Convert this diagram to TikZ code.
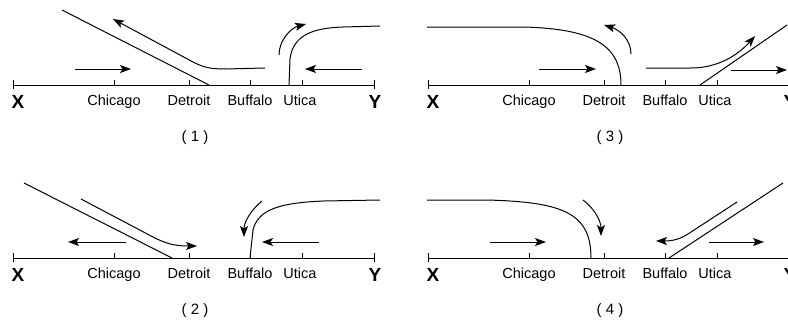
\documentclass[tikz,border=0pt]{standalone}
\usepackage{fontspec}
\setmainfont{Liberation Sans}
\usepackage{tikz}
\usetikzlibrary{arrows.meta}

\begin{document}
\begin{tikzpicture}[
  x=1pt, y=-1pt,
  track/.style={line width=1pt},
  route/.style={line width=1pt},
  arr/.style={-{Stealth[length=11pt,width=8pt,inset=2.5pt]}, line width=1pt},
  city/.style={anchor=base, inner sep=0pt, font=\fontsize{14.5}{15}\selectfont},
  endpt/.style={anchor=base, inner sep=0pt, font=\bfseries\fontsize{19}{19}\selectfont},
  capt/.style={anchor=base, inner sep=0pt, font=\fontsize{15}{16}\selectfont}
]
\useasboundingbox (0,0) rectangle (788,322);

% track, ticks and labels of the four panels
\foreach \ox/\oy/\n in {13/85/1, 13/258/2, 428/85/3, 428/258/4} {
  \begin{scope}[shift={(\ox,\oy)}]
    \coordinate (west\n) at (0,0);
    \coordinate (east\n) at (361,0);
    \draw[track] (west\n) -- (east\n);
    \draw[track] (0,-5) -- (0,4);
    \draw[track] (361,-5) -- (361,4);
    \foreach \t in {101,176,237,289}
      \draw[track] (\t,0) -- (\t,-5);
    \node[endpt] (X\n) at (5,23) {X};
    \node[endpt] (Y\n) at (362,23) {Y};
    \node[city] (chi\n) at (101,20) {Chicago};
    \node[city] (det\n) at (176,20) {Detroit};
    \node[city] (buf\n) at (237,20) {Buffalo};
    \node[city] (uti\n) at (287,20) {Utica};
    \node[capt] (cap\n) at (182,56) {( \n\ )};
  \end{scope}
}

% panel (1)
\begin{scope}[shift={(13,85)}]
  \draw[route] (49,-75) -- (196,0);
  \draw[arr] (252,-17) -- (212,-16) .. controls (196,-16) and (190,-18) .. (180,-23) -- (100,-66);
  \draw[arr] (62,-16) -- (118,-16);
  \draw[arr] (349,-16) -- (292,-16);
  \draw[route] (276,0) -- (277,-26) .. controls (280,-50) and (300,-57) .. (330,-58) -- (367,-59);
  \draw[arr] (266,-30) .. controls (266,-45) and (278,-57) .. (293,-61);
\end{scope}

% panel (2)
\begin{scope}[shift={(13,258)}]
  \draw[route] (11,-75) -- (159,0);
  \draw[arr] (68,-59) -- (140,-21) .. controls (152,-15) and (160,-12) .. (184,-12);
  \draw[arr] (113,-16) -- (55,-16);
  \draw[route] (237,0) -- (240,-28) .. controls (245,-48) and (265,-55) .. (310,-57) -- (367,-58);
  \draw[arr] (249,-57) .. controls (238,-48) and (231,-36) .. (231,-21);
  \draw[arr] (306,-16) -- (249,-16);
\end{scope}

% panel (3)
\begin{scope}[shift={(428,85)}]
  \draw[route] (-1,-58) -- (96,-58) .. controls (165,-56) and (193,-40) .. (193,0);
  \draw[arr] (203,-31) .. controls (203,-45) and (192,-55) .. (176,-60);
  \draw[arr] (111,-16) -- (168,-16);
  \draw[arr] (218,-17) -- (263,-17) .. controls (290,-17) and (310,-30) .. (327,-49);
  \draw[route] (272,0) -- (359,-60);
  \draw[arr] (303,-15) -- (359,-15);
\end{scope}

% panel (4)
\begin{scope}[shift={(428,258)}]
  \draw[route] (-1,-58) -- (59,-58) .. controls (135,-56) and (163,-45) .. (163,0);
  \draw[arr] (155,-58) .. controls (168,-48) and (173,-36) .. (173,-22);
  \draw[arr] (62,-16) -- (118,-16);
  \draw[route] (241,0) -- (355,-75);
  \draw[arr] (309,-56) -- (260,-24) .. controls (252,-19) and (245,-17) .. (228,-17);
  \draw[arr] (281,-16) -- (336,-16);
\end{scope}
\end{tikzpicture}
\end{document}
